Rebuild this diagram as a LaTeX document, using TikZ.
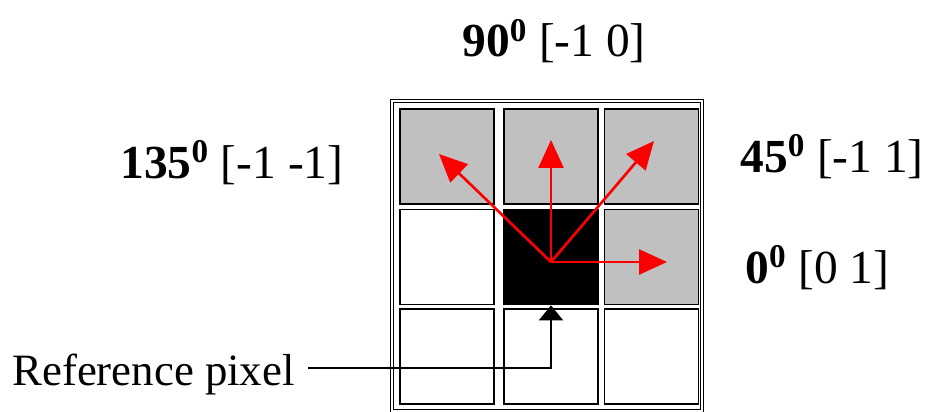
\documentclass[tikz,border=0pt]{standalone}
\usepackage{fontspec}
\setmainfont{Liberation Serif}
\usetikzlibrary{positioning, arrows.meta, calc}
\definecolor{cellgray}{RGB}{192,192,192}
\definecolor{dirred}{RGB}{250,0,0}

\begin{document}
\begin{tikzpicture}[x=0.02cm, y=-0.02cm,
        cell/.style={draw, line width=1pt, minimum width=1.88cm, minimum height=1.9cm, inner sep=0pt},
        anglelbl/.style={font=\fontsize{27}{30}\selectfont, anchor=base west, inner sep=0pt},
        dirarrow/.style={dirred, line width=1.5pt, -{Triangle[length=0.56cm, width=0.5cm]}},
        pointer/.style={line width=1.2pt, -{Triangle[length=0.3cm, width=0.48cm]}}]
        \useasboundingbox (0,0) rectangle (929,412);
        % grid of pixels
        \draw[line width=1pt, double=white, double distance=0.8pt] (392,101) rectangle (702,411);
        \foreach \nm/\x/\y/\f in {c11/447/156.5/cellgray, c12/551/156.5/cellgray, c13/651.5/156.5/cellgray,
                                  c21/447/257/white, c22/551/257/black, c23/651.5/257/cellgray,
                                  c31/447/356.5/white, c32/551/356.5/white, c33/651.5/356.5/white}
          \node[cell, fill=\f] (\nm) at (\x,\y) {};
        % directions
        \coordinate (origin) at (551,262);
        \coordinate (d0)   at (667,262);
        \coordinate (d45)  at (654,141);
        \coordinate (d90)  at (551,140);
        \coordinate (d135) at (439,154);
        \draw[dirarrow] (origin) -- (d0);
        \draw[dirarrow] (origin) -- (d45);
        \draw[dirarrow] (origin) -- (d90);
        \draw[dirarrow] (origin) -- (d135);
        \node[anglelbl] (l90)  at (462,57)  {\textbf{90\textsuperscript{0}} [-1 0]};
        \node[anglelbl] (l135) at (120,178) {\textbf{135\textsuperscript{0}} [-1 -1]};
        \node[anglelbl] (l45)  at (740,172) {\textbf{45\textsuperscript{0}} [-1 1]};
        \node[anglelbl] (l0)   at (745,283) {\textbf{0\textsuperscript{0}} [0 1]};
        % reference pixel
        \node[font=\fontsize{25.5}{28}\selectfont, anchor=base west, inner sep=0pt] (reflbl) at (12,385) {Reference pixel};
        \coordinate (bend) at (551,368);
        \draw[pointer] ([xshift=0.26cm]reflbl.east |- bend) -- (bend) -- (c22.south);
      \end{tikzpicture}
\end{document}
